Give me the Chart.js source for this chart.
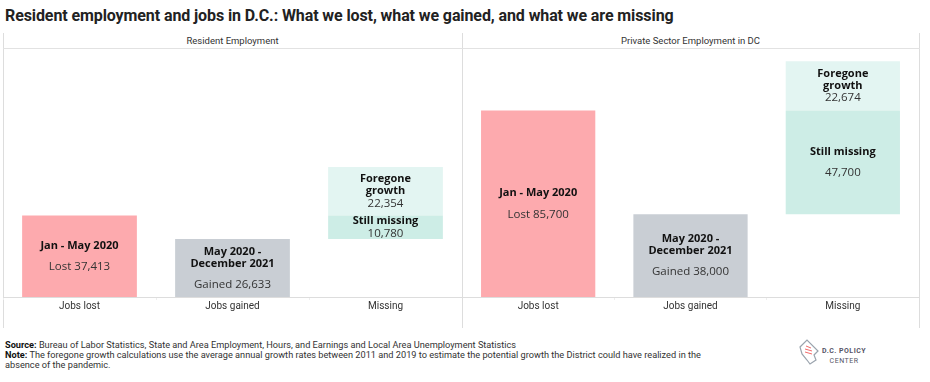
<!DOCTYPE html>
<html>
<head>
<meta charset="utf-8">
<script src="https://cdn.jsdelivr.net/npm/chart.js@4.4.1/dist/chart.umd.min.js"></script>
<style>
  body { margin: 0; background: #fff; width: 930px; height: 382px; position: relative; overflow: hidden; font-family: Roboto, sans-serif; }
  .title { position: absolute; left: 5px; top: 6px; font-size: 16px; font-weight: 700; color: #222; letter-spacing: -0.1px; }
  .vline { position: absolute; top: 33px; height: 295px; width: 1px; background: #ddd; }
  .hline { position: absolute; top: 48px; left: 3px; width: 917px; height: 1px; background: #e2e2e2; }
  .head { position: absolute; top: 35px; font-size: 9.5px; color: #333; text-align: center; }
  canvas { position: absolute; top: 49px; }
  .foot { position: absolute; left: 5px; top: 340px; font-size: 9.2px; line-height: 10px; color: #333; }
  .foot b { color: #111; }
  .logo { position: absolute; left: 798px; top: 338px; }
  .logo-text { position: absolute; left: 822px; top: 346px; font-size: 7px; line-height: 10px; color: #556; font-weight: 700; letter-spacing: 0.5px; text-align: center; }
</style>
</head>
<body>
<div class="title">Resident employment and jobs in D.C.: What we lost, what we gained, and what we are missing</div>
<div class="vline" style="left:3px"></div>
<div class="vline" style="left:462px"></div>
<div class="vline" style="left:919px"></div>
<div class="hline"></div>
<div class="head" style="left:3px;width:459px">Resident Employment</div>
<div class="head" style="left:462px;width:457px">Private Sector Employment in DC</div>
<canvas id="left" width="459" height="279" style="left:3px"></canvas>
<canvas id="right" width="457" height="279" style="left:462px"></canvas>
<div class="foot"><b>Source:</b> Bureau of Labor Statistics, State and Area Employment, Hours, and Earnings and Local Area Unemployment Statistics<br><b>Note:</b> The foregone growth calculations use the average annual growth rates between 2011 and 2019 to estimate the potential growth the District could have realized in the<br>absence of the pandemic.</div>
<svg class="logo" width="22" height="28" viewBox="0 0 22 28">
  <polygon points="2,9 9,2 20,13 16,17 18,22 12,26 9,22 4,16" fill="none" stroke="#9aa3ad" stroke-width="1.2"/>
  <line x1="8" y1="8" x2="13" y2="10" stroke="#f26b6b" stroke-width="1"/>
  <line x1="7" y1="11" x2="14" y2="13" stroke="#f26b6b" stroke-width="1"/>
  <line x1="7" y1="14" x2="14" y2="16" stroke="#f26b6b" stroke-width="1"/>
</svg>
<div class="logo-text">D.C. POLICY<br><span style="font-weight:400">CENTER</span></div>
<script>
const categories = ['Jobs lost', 'Jobs gained', 'Missing'];

// lost, gained, still missing, foregone growth
const residentValues = [37413, 26633, 10780, 22354];
const privateValues = [85700, 38000, 47700, 22674];

const barTitles = [['Jan - May 2020'], ['May 2020 -', 'December 2021'], ['Still missing'], ['Foregone', 'growth']];
const valuePrefixes = ['Lost ', 'Gained ', '', ''];

const colors = ['#fdaaae', '#c9ced4', '#cdede6', '#e3f5f2'];
const yMax = 114000;

const fmt = (n) => n.toLocaleString('en-US');

const barLabels = {
  id: 'barLabels',
  afterDatasetsDraw(chart) {
    const ctx = chart.ctx;
    const vals = chart.options.plugins.barLabels.values;
    chart.data.datasets.forEach((ds, di) => {
      const meta = chart.getDatasetMeta(di);
      meta.data.forEach((bar, i) => {
        if (ds.data[i] == null) return;
        const h = Math.abs(bar.base - bar.y);
        const titles = barTitles[di];
        const gap = h > 55 ? 21 : 12;
        const total = (titles.length - 1) * 12 + gap;
        let y = (bar.y + bar.base) / 2 - total / 2;
        ctx.save();
        ctx.textAlign = 'center';
        ctx.textBaseline = 'middle';
        ctx.fillStyle = '#111';
        ctx.font = 'bold 11px "Open Sans"';
        titles.forEach((t, k) => {
          ctx.fillText(t, bar.x, y + k * 12);
        });
        ctx.fillStyle = '#333';
        ctx.font = '11.5px "Open Sans"';
        ctx.fillText(valuePrefixes[di] + fmt(vals[di]), bar.x, y + (titles.length - 1) * 12 + gap);
        ctx.restore();
      });
    });
  }
};

function makePanel(id, values) {
  const [lost, gained, still, foregone] = values;
  const data = [
    [[0, lost], null, null],
    [null, [0, gained], null],
    [null, null, [gained, gained + still]],
    [null, null, [gained + still, gained + still + foregone]]
  ];
  new Chart(document.getElementById(id), {
    type: 'bar',
    data: {
      labels: categories,
      datasets: data.map((d, i) => ({
        data: d,
        backgroundColor: colors[i],
        borderWidth: 0,
        barPercentage: 0.75,
        categoryPercentage: 1
      }))
    },
    options: {
      responsive: false,
      animation: false,
      devicePixelRatio: 1,
      layout: { padding: 0 },
      plugins: {
        legend: { display: false },
        tooltip: { enabled: false },
        barLabels: { values: values }
      },
      scales: {
        x: {
          stacked: true,
          offset: true,
          grid: { display: true, drawOnChartArea: false, offset: true, tickLength: 3, color: '#eee' },
          border: { display: true, color: '#ddd' },
          ticks: { color: '#333', font: { family: 'Roboto', size: 10 }, padding: 0, maxRotation: 0 },
          afterFit: (scale) => { scale.height = 31; }
        },
        y: {
          display: false,
          stacked: false,
          min: 0,
          max: yMax
        }
      }
    },
    plugins: [barLabels]
  });
}

makePanel('left', residentValues);
makePanel('right', privateValues);
</script>
</body>
</html>
